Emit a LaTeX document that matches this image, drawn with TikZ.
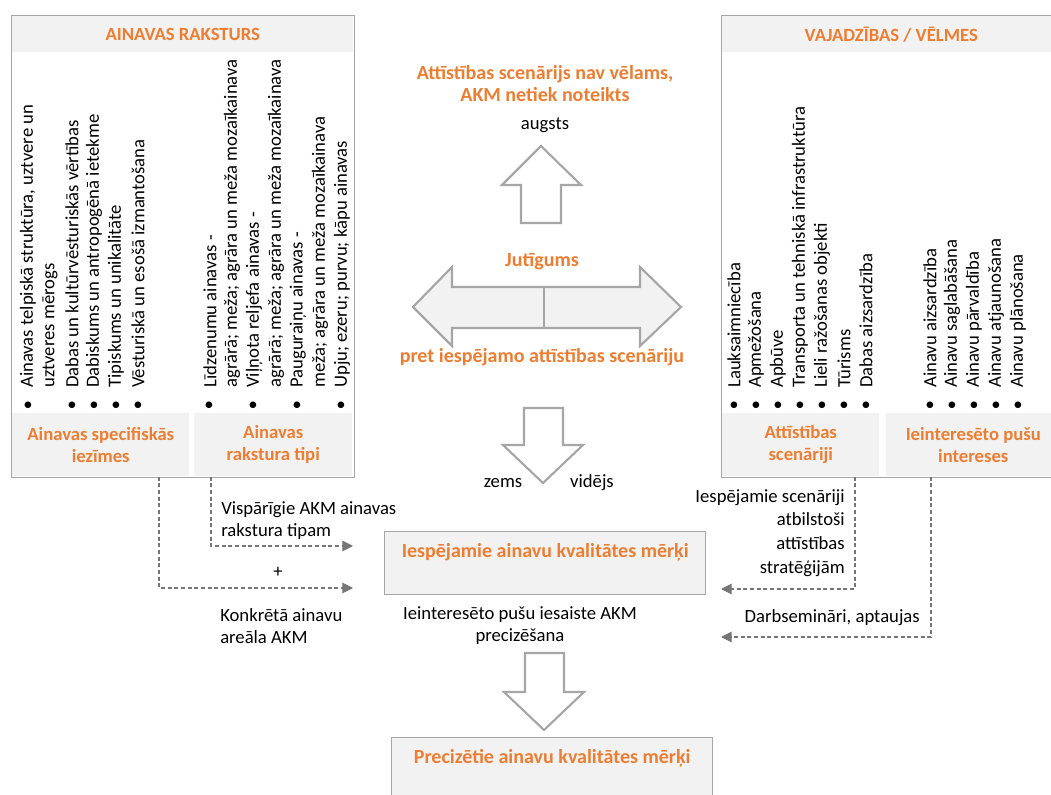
\documentclass[tikz,border=0pt]{standalone}
\usepackage{fontspec}
\setmainfont{Carlito}
\usepackage{tikz}
\usetikzlibrary{arrows.meta}
\usetikzlibrary{positioning}
\definecolor{akmorange}{RGB}{237,125,49}
\definecolor{boxgray}{RGB}{166,166,166}
\definecolor{bandgray}{RGB}{242,242,242}
\definecolor{dashgray}{RGB}{118,118,118}
\tikzstyle{txt}  =
[
	font=\fontsize{14}{16.5}\selectfont, text=black, inner sep=0pt
]
\tikzstyle{otxt} =
[
	font=\fontsize{15}{16.5}\selectfont\bfseries, text=akmorange,
	inner sep=0pt, align=center
]
\tikzstyle{outerbox} =
[
	draw=boxgray,rectangle,line width=1.1pt,inner sep=0pt,anchor=north west
]
\tikzstyle{band} =
[
	fill=bandgray,rectangle,inner sep=0pt,anchor=north west,
	font=\fontsize{14}{16.5}\selectfont\bfseries, text=akmorange, align=center
]
\tikzstyle{rot} = [txt, rotate=90, anchor=west]
\tikzstyle{dot} = [txt, anchor=center]
\tikzstyle{blockarrow} =
[
	draw=boxgray, line width=1.6pt, fill=white, line join=miter
]
\tikzstyle{dashlink} =
[
	draw=dashgray, dash pattern=on 3pt off 2pt, line width=0.8pt,
	-{Triangle[length=8pt,width=8pt]}
]

\begin{document}
\begin{tikzpicture}[x=0.75pt,y=-0.75pt]

\fill[white] (0,0) rectangle (1051,795);
\useasboundingbox (0,0) rectangle (1051,795);

% ainavas raksturs
\node[outerbox, minimum width=343*0.75pt, minimum height=462*0.75pt] (raksturs) at (11,15) {};
\node[band, minimum width=341*0.75pt, minimum height=36*0.75pt] (hdrRakst) at (12,16) {AINAVAS RAKSTURS};
\node[band, minimum width=177*0.75pt, minimum height=63*0.75pt] (specif) at (12,413) {Ainavas specifiskās\\iezīmes};
\node[band, minimum width=158*0.75pt, minimum height=63*0.75pt] (tipi) at (194,413) {Ainavas\\rakstura tipi};

\foreach \x/\t [count=\i] in {28/{Ainavas telpiskā struktūra, uztvere un},
	50/{uztveres mērogs},
	72/{Dabas un kultūrvēsturiskās vērtības},
	94/{Dabiskums un antropogēnā ietekme},
	116/{Tipiskums un unikalitāte},
	138/{Vēsturiskā un esošā izmantošana}}
	\node[rot] (ra\i) at (\x,388) {\t};
\foreach \x in {28,72,94,116,138}
	\node[dot] (ba\x) at (\x,406) {•};

\foreach \x/\t [count=\i] in {210/{Līdzenumu ainavas -},
	232/{agrārā; meža; agrāra un meža mozaīkainava},
	254/{Viļņota reljefa ainavas -},
	276/{agrārā; meža; agrāra un meža mozaīkainava},
	298/{Pauguraiņu ainavas -},
	320/{meža; agrāra un meža mozaīkainava},
	342/{Upju; ezeru; purvu; kāpu ainavas}}
	\node[rot] (rb\i) at (\x,388) {\t};
\foreach \x in {209,253,297,341}
	\node[dot] (bb\x) at (\x,406) {•};

% vajadzibas / velmes
\node[outerbox, minimum width=340*0.75pt, minimum height=462*0.75pt] (vajadz) at (721,15) {};
\node[band, minimum width=338*0.75pt, minimum height=36*0.75pt] (hdrVaj) at (722,16) {VAJADZĪBAS / VĒLMES};
\node[band, minimum width=157*0.75pt, minimum height=63*0.75pt] (scen) at (722,413) {Attīstības\\scenāriji};
\node[band, minimum width=174*0.75pt, minimum height=63*0.75pt] (intr) at (886,413) {Ieinteresēto pušu\\intereses};

\foreach \x/\t [count=\i] in {734/Lauksaimniecība, 756/Apmežošana, 778/Apbūve,
	800/{Transporta un tehniskā infrastruktūra}, 822/{Lieli ražošanas objekti},
	844/Tūrisms, 866/{Dabas aizsardzība}}
	{
	\node[rot] (rc\i) at (\x,388) {\t};
	\node[dot] (bc\i) at (\x,406) {•};
	}
\foreach \x/\t [count=\i] in {930/{Ainavu aizsardzība}, 952/{Ainavu saglabāšana},
	974/{Ainavu pārvaldība}, 996/{Ainavu atjaunošana}, 1018/{Ainavu plānošana}}
	{
	\node[rot] (rd\i) at (\x,388) {\t};
	\node[dot] (bd\i) at (\x,406) {•};
	}

% jutigums
\node[otxt] (nevelams) at (545,84) {Attīstības scenārijs nav vēlams,\\AKM netiek noteikts};
\node[txt] (augsts) at (545,125) {augsts};
\draw[blockarrow] (541,146) -- (581,185) -- (561,185) -- (561,223) -- (521,223) -- (521,185) -- (502,185) -- cycle;

\node[otxt] (jutigums) at (542,262) {Jutīgums};
\draw[blockarrow, fill=bandgray] (413,307) -- (452,267) -- (452,287) -- (640,287) -- (640,267) -- (681,307)
	-- (640,346) -- (640,328) -- (452,328) -- (452,346) -- cycle;
\draw[boxgray, line width=1.6pt] (544,287) -- (544,328);
\node[otxt] (pret) at (542,357) {pret iespējamo attīstības scenāriju};

\draw[blockarrow] (524,408) -- (563,408) -- (563,445) -- (583,445) -- (543,483) -- (503,445) -- (524,445) -- cycle;
\node[txt] (zems) at (503,483) {zems};
\node[txt] (videjs) at (592,483) {vidējs};

% merki
\node[outerbox, fill=bandgray, minimum width=321*0.75pt, minimum height=63*0.75pt] (merki) at (384,531) {};
\node[otxt, below=9pt of merki.north] (merkiT) {Iespējamie ainavu kvalitātes mērķi};

\coordinate (inA) at (353,546);
\coordinate (inB) at (353,588);
\coordinate (inC) at (721,589);
\coordinate (inD) at (721,637);

\draw[dashlink] ([xshift=17*0.75pt]tipi.south west) |- (inA);
\draw[dashlink] ([xshift=147*0.75pt]specif.south west) |- (inB);
\draw[dashlink] ([xshift=133*0.75pt]scen.south west) |- (inC);
\draw[dashlink] ([xshift=45*0.75pt]intr.south west) |- (inD);

\node[txt, align=left, anchor=west] (visparigie) at (221,521) {Vispārīgie AKM ainavas\\rakstura tipam};
\node[txt] (plus) at (278,572) {+};
\node[txt, align=left, anchor=west] (konkreta) at (220,626) {Konkrētā ainavu\\areāla AKM};
\node[txt, align=center] (iesaiste) at (520,626) {Ieinteresēto pušu iesaiste AKM\\precizēšana};
\node[txt, align=right, anchor=east] (iespejamie) at (845,533) {Iespējamie scenāriji\\[1.3pt]atbilstoši\\[1.3pt]attīstības\\[1.3pt]stratēģijām};
\node[txt, anchor=east] (darbsem) at (920,618) {Darbsemināri, aptaujas};

% precizetie merki
\draw[blockarrow] (525,653) -- (564,653) -- (564,692) -- (584,692) -- (544,730) -- (504,692) -- (525,692) -- cycle;
\node[outerbox, fill=bandgray, minimum width=321*0.75pt, minimum height=70*0.75pt] (precmerki) at (391,737) {};
\node[otxt, below=9pt of precmerki.north] (precmerkiT) {Precizētie ainavu kvalitātes mērķi};

\end{tikzpicture}
\end{document}
